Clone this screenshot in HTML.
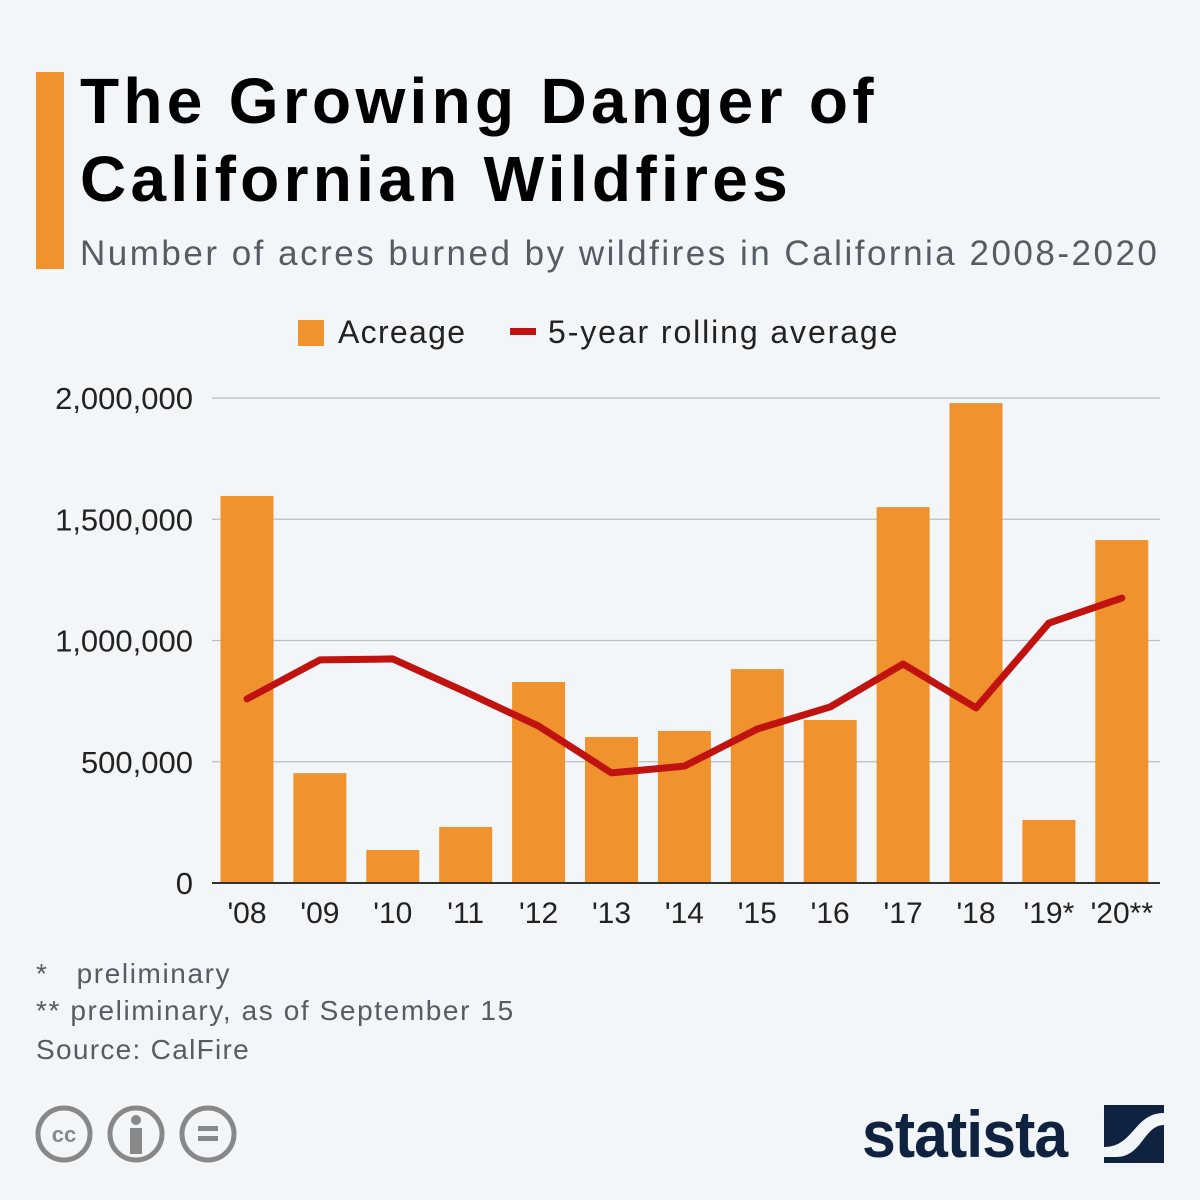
<!DOCTYPE html>
<html><head><meta charset="utf-8"><style>
body{margin:0;width:1200px;height:1200px;background:#f3f6f9;font-family:"Liberation Sans",sans-serif;overflow:hidden;position:relative}
.a{position:absolute}
</style></head><body>
<div class="a" style="left:36px;top:72px;width:28px;height:197px;background:#f0922d"></div>
<div class="a" style="left:80px;top:62px;font-size:64px;font-weight:bold;line-height:78px;color:#000;letter-spacing:4.3px">The Growing Danger of<br>Californian Wildfires</div>
<div class="a" style="left:80px;top:234px;font-size:35px;color:#555c63;letter-spacing:2.5px">Number of acres burned by wildfires in California 2008-2020</div>
<div class="a" style="left:298px;top:314px;font-size:32px;color:#222;letter-spacing:1.3px"><span style="display:inline-block;width:26px;height:26px;background:#f0922d;vertical-align:-3px;margin-right:14px"></span>Acreage</div>
<div class="a" style="left:510px;top:314px;font-size:32px;color:#222;letter-spacing:1.9px"><span style="display:inline-block;width:26px;height:7px;background:#c0130f;vertical-align:8px;margin-right:12px"></span>5-year rolling average</div>
<svg class="a" style="left:0;top:0" width="1200" height="1200" id="chart"></svg>
<div class="a" style="left:36px;top:955px;font-size:28px;line-height:37px;color:#555c63;letter-spacing:1.6px">*&nbsp;&nbsp;&nbsp;preliminary<br>** preliminary, as of September 15</div>
<div class="a" style="left:36px;top:1034px;font-size:28px;color:#555c63;letter-spacing:1.3px">Source: CalFire</div>
<svg class="a" style="left:34px;top:1104px" width="210" height="62">
<g fill="none" stroke="#888" stroke-width="5"><circle cx="30" cy="30" r="26"/><circle cx="102" cy="30" r="26"/><circle cx="174" cy="30" r="26"/></g>
<text x="30" y="38" font-size="22" font-weight="bold" fill="#888" text-anchor="middle" font-family="Liberation Sans">cc</text>
<circle cx="102" cy="16" r="5" fill="#888"/><rect x="96" y="24" width="12" height="26" fill="#888"/>
<rect x="164" y="22" width="20" height="5" fill="#888"/><rect x="164" y="32" width="20" height="5" fill="#888"/>
</svg>
<div class="a" style="left:862px;top:1096px;font-size:66px;font-weight:bold;color:#0f2340;letter-spacing:-1px;transform:scaleX(0.92);transform-origin:left">statista</div>
<svg class="a" style="left:1104px;top:1105px" width="60" height="60"><rect width="60" height="58" fill="#0f2340"/><path d="M0 42 C30 42 30 8 60 8 L60 20 C40 20 38 52 12 52 L0 52Z" fill="#f3f6f9"/></svg>
<script>
const categories=["'08","'09","'10","'11","'12","'13","'14","'15","'16","'17","'18","'19*","'20**"];
const acreage=[1596000,453000,136000,231000,829000,602000,627000,882000,672000,1550000,1979000,260000,1414000];
const rollingAvg=[759000,920000,924000,788000,647000,454000,482000,635000,726000,903000,722000,1072000,1175000];
const yTicks=[0,500000,1000000,1500000,2000000];
const svg=document.getElementById('chart');const NS='http://www.w3.org/2000/svg';
const y=v=>883-v/2000000*485;const x=i=>247+i*72.9;
function mk(t,a){const e=document.createElementNS(NS,t);for(const k in a)e.setAttribute(k,a[k]);svg.appendChild(e);return e;}
yTicks.forEach(t=>{const l=mk('line',{x1:212,x2:1160,y1:y(t),y2:y(t),stroke:t?'#b8bec4':'#333','stroke-width':t?1.2:2});


const tx=mk('text',{x:193,y:y(t)+11,'font-size':31,'text-anchor':'end',fill:'#222','font-family':'Liberation Sans'});tx.textContent=t.toLocaleString('en-US');

});
acreage.forEach((v,i)=>{const r=mk('rect',{x:x(i)-26.5,y:y(v),width:53,height:883-y(v),fill:'#f0922d'});


const tx=mk('text',{x:x(i),y:923,'font-size':30,'text-anchor':'middle',fill:'#222','font-family':'Liberation Sans'});tx.textContent=categories[i];

});
svg.insertBefore(svg.querySelector('line'),null);
const p=mk('polyline',{points:rollingAvg.map((v,i)=>x(i)+','+y(v)).join(' '),fill:'none',stroke:'#c0130f','stroke-width':7,'stroke-linejoin':'round','stroke-linecap':'round'});


</script>
</body></html>
